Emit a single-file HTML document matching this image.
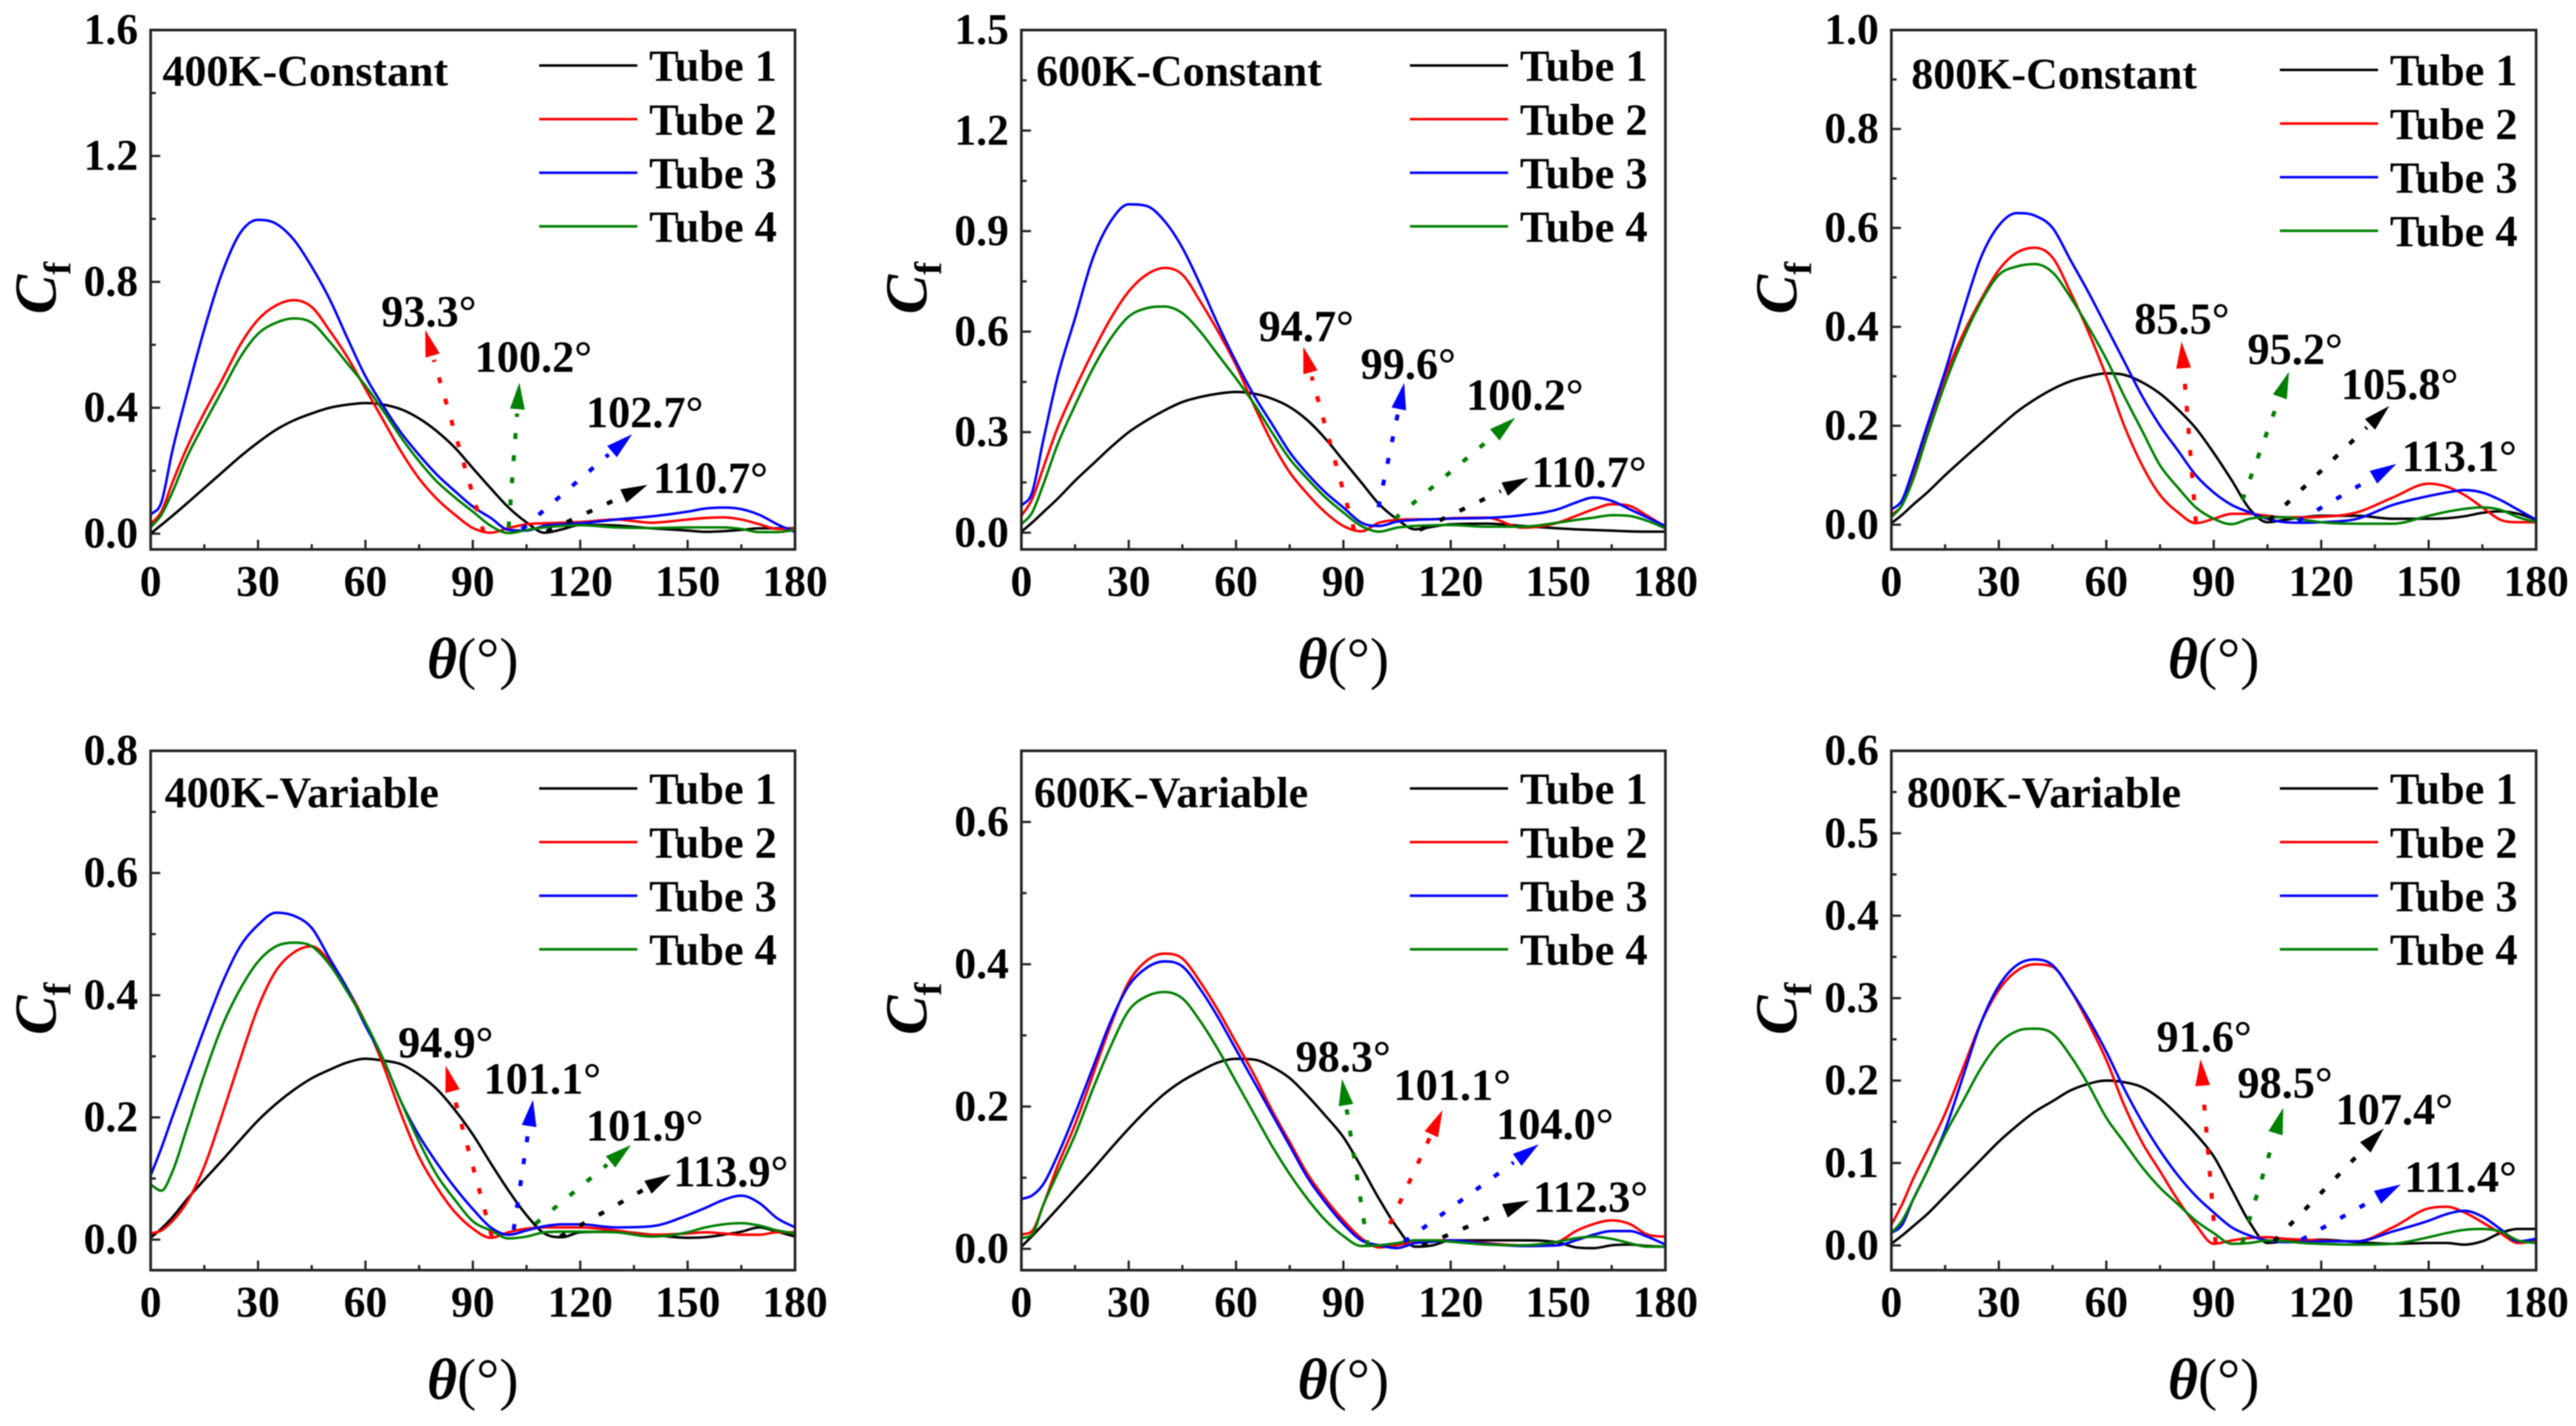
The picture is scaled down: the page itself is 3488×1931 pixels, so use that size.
<!DOCTYPE html>
<html lang="en">
<head>
<meta charset="utf-8">
<title>Skin friction coefficient of tube rows</title>
<style>
html,body{margin:0;padding:0;background:#fff;}
body{width:3488px;height:1931px;overflow:hidden;}
#figure{display:block;filter:blur(0.7px);}
text{font-family:"Liberation Serif","DejaVu Serif",serif;font-weight:700;fill:#000;}
</style>
</head>
<body>
<svg id="figure" xmlns="http://www.w3.org/2000/svg" width="3488" height="1931" viewBox="0 0 3488 1931"></svg>
<script>
const theta = [0,3,6,10,15, 20,25,30,35,40, 45,50,55,60,65, 70,75,80,85,90, 95,100,105,110,115, 120,130,140,150,155, 160,165,170,175,180];
const xTicks = [0,30,60,90,120,150,180];
const seriesNames = ['Tube 1','Tube 2','Tube 3','Tube 4'];
const seriesColors = ['#000000','#ff0000','#0000ff','#008000'];

const c400Tube1 = [0,.028,.056,.095,.145, .195,.245,.29,.33,.36, .382,.4,.41,.415,.41, .395,.366,.325,.273,.208, .144,.083,.036,.003,.014, .028,.026,.017,.01,.006, .008,.012,.017,.017,.017];
const c400Tube2 = [.03,.07,.16,.27,.385, .49,.6,.68,.725,.742, .72,.645,.56,.46,.36, .26,.175,.11,.06,.018, .003,.018,.03,.033,.035, .037,.045,.035,.045,.05, .052,.045,.03,.015,.015];
const c400Tube3 = [.06,.1,.26,.44,.65, .83,.955,.997,.985,.934, .848,.745,.62,.5,.405, .32,.25,.187,.135,.086, .05,.012,.01,.025,.03, .033,.045,.055,.07,.08, .083,.078,.06,.03,.005];
const c400Tube4 = [.02,.06,.13,.24,.35, .455,.56,.635,.67,.684, .67,.61,.54,.47,.39, .305,.23,.165,.115,.07, .025,.002,.012,.02,.025, .027,.02,.018,.02,.02, .02,.015,.005,.005,.012];

const c600Tube1 = [.003,.03,.06,.1,.155, .205,.255,.3,.335,.365, .39,.405,.415,.42,.415, .4,.375,.335,.28,.215, .15,.085,.04,.01,.018, .025,.027,.02,.013,.01, .008,.006,.004,.003,.003];
const c600Tube2 = [.05,.1,.19,.31,.43, .54,.64,.72,.77,.79, .77,.69,.6,.5,.38, .27,.18,.115,.06,.02, .004,.03,.038,.04,.04, .043,.045,.015,.03,.05, .07,.085,.08,.05,.018];
const c600Tube3 = [.08,.12,.27,.46,.64, .82,.93,.98,.975,.93, .85,.74,.62,.51,.41, .325,.24,.175,.12,.075, .03,.02,.033,.038,.04, .042,.044,.052,.07,.09, .105,.095,.07,.045,.02];
const c600Tube4 = [.025,.06,.14,.26,.38, .49,.58,.645,.67,.675, .655,.6,.53,.46,.385, .3,.22,.16,.105,.06, .02,.003,.015,.02,.022, .023,.018,.018,.03,.038, .045,.052,.05,.035,.013];

const c800Tube1 = [.003,.02,.04,.065,.1, .133,.165,.197,.228,.253, .274,.29,.3,.306,.303, .288,.265,.233,.195,.145, .09,.032,.005,.01,.015, .018,.018,.012,.012,.013, .017,.024,.027,.022,.01];
const c800Tube2 = [.02,.04,.1,.19,.3, .385,.455,.515,.55,.56, .54,.47,.39,.3,.2, .12,.06,.025,.003,.012, .022,.022,.018,.015,.015, .016,.025,.055,.083,.077, .06,.035,.01,.005,.005];
const c800Tube3 = [.03,.05,.11,.2,.31, .43,.54,.605,.63,.625, .6,.535,.47,.4,.33, .26,.2,.15,.1,.065, .04,.025,.012,.005,.004, .005,.012,.04,.058,.065, .07,.065,.05,.03,.01];
const c800Tube4 = [.015,.04,.09,.18,.285, .375,.45,.505,.522,.527, .51,.46,.4,.335,.26, .19,.12,.075,.035,.012, .001,.012,.015,.015,.01, .005,.002,.002,.018,.026, .032,.035,.03,.015,.005];

const v400Tube1 = [.003,.018,.036,.065,.098, .13,.163,.195,.222,.245, .264,.278,.29,.296,.293, .287,.27,.246,.212,.172, .125,.08,.04,.01,.004, .012,.013,.008,.003,.004, .008,.013,.02,.013,.005];
const v400Tube2 = [.01,.015,.03,.06,.12, .205,.295,.38,.44,.47, .48,.455,.41,.355,.285, .205,.135,.085,.045,.018, .003,.012,.018,.02,.02, .02,.015,.008,.01,.012, .01,.008,.008,.012,.012];
const v400Tube3 = [.105,.15,.2,.265,.345, .42,.48,.515,.535,.53, .51,.46,.41,.35,.295, .225,.17,.125,.085,.05, .02,.008,.015,.022,.025, .025,.02,.022,.04,.052, .065,.072,.06,.035,.02];
const v400Tube4 = [.09,.08,.11,.18,.27, .35,.41,.455,.48,.486, .48,.45,.405,.355,.295, .225,.16,.105,.065,.03, .015,.002,.005,.012,.013, .013,.012,.005,.012,.02, .025,.027,.023,.015,.01];

const v600Tube1 = [.003,.018,.034,.056,.084, .112,.141,.169,.195,.218, .236,.25,.262,.267,.266, .256,.24,.215,.187,.157, .115,.07,.03,.003,.005, .012,.012,.012,.009,.002, .001,.005,.006,.004,.003];
const v600Tube2 = [.02,.025,.06,.115,.175, .245,.315,.375,.405,.415, .408,.375,.335,.29,.245, .195,.15,.105,.07,.04, .015,.002,.005,.01,.012, .012,.008,.005,.01,.025, .035,.04,.035,.02,.017];
const v600Tube3 = [.07,.075,.09,.13,.19, .255,.32,.37,.395,.404, .397,.365,.325,.28,.235, .19,.145,.1,.065,.035, .012,.005,.001,.008,.01, .012,.007,.004,.005,.012, .02,.025,.025,.017,.006];
const v600Tube4 = [.015,.02,.06,.105,.16, .225,.285,.335,.355,.361, .352,.32,.28,.235,.19, .145,.105,.07,.04,.018, .004,.005,.008,.012,.012, .01,.006,.005,.01,.015, .017,.014,.008,.003,.003];

const v800Tube1 = [.002,.012,.023,.038,.06, .082,.104,.126,.145,.162, .175,.188,.196,.2,.198, .192,.178,.158,.135,.108, .068,.028,.003,.005,.006, .007,.004,.002,.003,.003, .001,.005,.015,.02,.02];
const v800Tube2 = [.025,.05,.08,.115,.16, .215,.27,.31,.333,.341, .338,.31,.27,.225,.17, .125,.09,.055,.025,.002, .006,.009,.01,.008,.007, .006,.005,.022,.045,.047, .04,.028,.015,.003,.005];
const v800Tube3 = [.015,.025,.055,.09,.14, .205,.27,.315,.34,.347, .34,.31,.275,.235,.19, .15,.115,.085,.06,.04, .022,.012,.006,.004,.004, .005,.005,.017,.03,.038, .042,.035,.02,.005,.008];
const v800Tube4 = [.015,.03,.055,.09,.135, .175,.215,.245,.26,.263, .257,.23,.195,.155,.125, .095,.07,.05,.03,.015, .002,.003,.006,.005,.003, .002,.001,.002,.01,.015, .019,.02,.017,.006,.003];

const yTicks400C = ['0.0','0.4','0.8','1.2','1.6'];
const yTicks600C = ['0.0','0.3','0.6','0.9','1.2','1.5'];
const yTicks800C = ['0.0','0.2','0.4','0.6','0.8','1.0'];
const yTicks400V = ['0.0','0.2','0.4','0.6','0.8'];
const yTicks600V = ['0.0','0.2','0.4','0.6'];
const yTicks800V = ['0.0','0.1','0.2','0.3','0.4','0.5','0.6'];

/* annotation: label, colour index, label theta, label Cf, tail theta, tail Cf, tip theta, tip Cf (data units) */
const notes400C = [['93.3°',1,64.4,.658,93,.005,76.7,.647],['100.2°',3,90.5,.514,100,.02,103,.48],['102.7°',2,121.6,.338,103.7,.014,134.5,.316],['110.7°',0,140.3,.129,110.6,.007,138.8,.155]];
const notes600C = [['94.7°',1,66.3,.572,93,.008,78.8,.555],['99.6°',2,94.8,.459,99.8,.076,107,.447],['100.2°',3,124.3,.366,104.4,.042,138,.343],['110.7°',0,142.6,.136,111.3,.008,141.8,.164]];
const notes800C = [['85.5°',1,67.8,.386,85,.005,81,.37],['95.2°',3,99.4,.325,98,.05,111,.309],['105.8°',0,125.5,.254,105.5,.009,139,.24],['113.1°',2,142.5,.108,113.5,.007,141,.123]];
const notes400V = [['94.9°',1,69.1,.298,95.3,.005,82.4,.285],['101.1°',2,93,.239,101.4,.016,106.8,.229],['101.9°',3,121.6,.162,107.5,.026,134.2,.155],['113.9°',0,146,.087,114.4,.005,145.4,.107]];
const notes600V = [['98.3°',3,76.6,.249,96.8,.004,89.6,.239],['101.1°',1,104,.209,103,.035,117.7,.195],['104.0°',2,132.7,.154,107,.01,144.6,.147],['112.3°',0,143,.052,112,.004,142,.068]];
const notes800V = [['91.6°',1,74,.235,90.5,.003,86.3,.226],['98.5°',3,96.6,.179,98,.003,109.4,.167],['107.4°',0,124,.147,106.8,.005,137.5,.142],['111.4°',2,143.2,.065,114.5,.007,142.2,.074]];

const panels = [
 {id:'400k-constant',title:'400K-Constant',left:204,right:1076.5,top:40.7,yMin:-.05,yMax:1.6,major:.4,ticks:yTicks400C,series:[c400Tube1,c400Tube2,c400Tube3,c400Tube4],notes:notes400C,legendTop:48,titleX:220,titleY:116},
 {id:'600k-constant',title:'600K-Constant',left:1383,right:2255,top:40.7,yMin:-.05,yMax:1.5,major:.3,ticks:yTicks600C,series:[c600Tube1,c600Tube2,c600Tube3,c600Tube4],notes:notes600C,legendTop:48,titleX:1403,titleY:116},
 {id:'800k-constant',title:'800K-Constant',left:2561,right:3434,top:40.7,yMin:-.05,yMax:1.0,major:.2,ticks:yTicks800C,series:[c800Tube1,c800Tube2,c800Tube3,c800Tube4],notes:notes800C,legendTop:54,titleX:2588,titleY:120},
 {id:'400k-variable',title:'400K-Variable',left:204,right:1076.5,top:1016.7,yMin:-.05,yMax:.8,major:.2,ticks:yTicks400V,series:[v400Tube1,v400Tube2,v400Tube3,v400Tube4],notes:notes400V,legendTop:51,titleX:223,titleY:1093},
 {id:'600k-variable',title:'600K-Variable',left:1383,right:2255,top:1016.7,yMin:-.03,yMax:.7,major:.2,ticks:yTicks600V,series:[v600Tube1,v600Tube2,v600Tube3,v600Tube4],notes:notes600V,legendTop:51,titleX:1400,titleY:1093},
 {id:'800k-variable',title:'800K-Variable',left:2561,right:3434,top:1016.7,yMin:-.03,yMax:.6,major:.1,ticks:yTicks800V,series:[v800Tube1,v800Tube2,v800Tube3,v800Tube4],notes:notes800V,legendTop:51,titleX:2582,titleY:1093}
];

const SVGNS = 'http://www.w3.org/2000/svg';
const figure = document.getElementById('figure');
const PLOT_HEIGHT = 703.3;

function make(tag, attrs, parent){
  const el = document.createElementNS(SVGNS, tag);
  for (const k in attrs) el.setAttribute(k, attrs[k]);
  parent.appendChild(el);
  return el;
}

/* shape-preserving cubic interpolation through the sampled values */
function curvePath(xs, ys){
  const n = xs.length, d = [], m = [];
  for (let i = 0; i < n-1; i++) d.push((ys[i+1]-ys[i])/(xs[i+1]-xs[i]));
  m[0] = d[0]; m[n-1] = d[n-2];
  for (let i = 1; i < n-1; i++){
    if (d[i-1]*d[i] <= 0) m[i] = 0;
    else {
      const a = xs[i]-xs[i-1], b = xs[i+1]-xs[i];
      const central = (d[i-1]*b + d[i]*a)/(a+b);
      const limit = 3*Math.min(Math.abs(d[i-1]), Math.abs(d[i]));
      m[i] = Math.sign(central)*Math.min(Math.abs(central), limit);
    }
  }
  let p = 'M' + xs[0].toFixed(2) + ' ' + ys[0].toFixed(2);
  for (let i = 0; i < n-1; i++){
    const h = (xs[i+1]-xs[i])/3;
    p += 'C' + (xs[i]+h).toFixed(2) + ' ' + (ys[i]+m[i]*h).toFixed(2) + ' ' +
         (xs[i+1]-h).toFixed(2) + ' ' + (ys[i+1]-m[i+1]*h).toFixed(2) + ' ' +
         xs[i+1].toFixed(2) + ' ' + ys[i+1].toFixed(2);
  }
  return p;
}

panels.forEach(function(panel){
  const bottom = panel.top + PLOT_HEIGHT;
  const xScale = function(v){ return panel.left + (v/180)*(panel.right-panel.left); };
  const yScale = function(v){ return bottom - (v-panel.yMin)/(panel.yMax-panel.yMin)*PLOT_HEIGHT; };

  const g = make('g', {}, figure);
  
  

  /* x ticks */
  for (let v = 0; v <= 180; v += 15){
    const isMajor = v % 30 === 0;
    const tick = make('line', {x1:xScale(v),x2:xScale(v),y1:bottom,y2:bottom-(isMajor?13:7),stroke:'#222','stroke-width':3}, g);
    
    
  }
  xTicks.forEach(function(v){
    const t = make('text', {x:xScale(v),y:bottom+63,'text-anchor':'middle','font-size':59}, g);
    t.textContent = String(v);
    
    
  });

  /* y ticks */
  const minorCount = Math.round(panel.yMax/(panel.major/2));
  for (let i = 0; i <= minorCount; i++){
    const v = i*panel.major/2;
    const isMajor = i % 2 === 0;
    const tick = make('line', {x1:panel.left,x2:panel.left+(isMajor?13:7),y1:yScale(v),y2:yScale(v),stroke:'#222','stroke-width':3}, g);
    
    
  }
  panel.ticks.forEach(function(label){
    const t = make('text', {x:panel.left-17,y:yScale(parseFloat(label))+19,'text-anchor':'end','font-size':59}, g);
    t.textContent = label;
    
    
  });

  /* series */
  const xs = theta.map(xScale);
  panel.series.forEach(function(values, i){
    const line = make('path', {d:curvePath(xs, values.map(yScale)),fill:'none',stroke:seriesColors[i],'stroke-width':3.4,'stroke-linejoin':'round'}, g);
    
    
  });

  /* frame */
  const frame = make('rect', {x:panel.left,y:panel.top,width:panel.right-panel.left,height:PLOT_HEIGHT,fill:'none',stroke:'#222','stroke-width':3.6}, g);
  
  

  /* panel title */
  const title = make('text', {x:panel.titleX,y:panel.titleY,'font-size':59.5}, g);
  title.textContent = panel.title;
  
  

  /* legend */
  seriesNames.forEach(function(name, i){
    const y = panel.top + panel.legendTop + i*72.6;
    const swatch = make('line', {x1:panel.left+526,x2:panel.left+659,y1:y,y2:y,stroke:seriesColors[i],'stroke-width':3.4}, g);
    
    
    const label = make('text', {x:panel.left+675,y:y+21,'font-size':60}, g);
    label.textContent = name;
    
    
  });

  /* annotations */
  panel.notes.forEach(function(n){
    const color = seriesColors[n[1]];
    const tx = xScale(n[4]), ty = yScale(n[5]), hx = xScale(n[6]), hy = yScale(n[7]);
    const dx = hx-tx, dy = hy-ty, len = Math.sqrt(dx*dx+dy*dy), ux = dx/len, uy = dy/len;
    const bx = hx-ux*36, by = hy-uy*36;
    const dots = make('line', {x1:tx,y1:ty,x2:hx-ux*42,y2:hy-uy*42,stroke:color,'stroke-width':5.5,'stroke-dasharray':'8 22'}, g);
    
    
    const head = make('polygon', {points:hx+','+hy+' '+(bx-uy*10)+','+(by+ux*10)+' '+(bx+uy*10)+','+(by-ux*10),fill:color}, g);
    
    
    const label = make('text', {x:xScale(n[2]),y:yScale(n[3]),'font-size':60}, g);
    label.textContent = n[0];
    
    
  });

  /* axis titles */
  const xTitle = make('text', {x:(panel.left+panel.right)/2,y:bottom+174,'text-anchor':'middle','font-size':78}, g);
  
  
  const thetaSpan = make('tspan', {'font-style':'italic'}, xTitle);
  thetaSpan.textContent = 'θ';
  const unitSpan = make('tspan', {'font-weight':400}, xTitle);
  unitSpan.textContent = '(°)';

  const cy = panel.top + PLOT_HEIGHT/2 + 33;
  const yTitle = make('text', {transform:'translate('+(panel.left-129)+','+cy+') rotate(-90)','font-size':80}, g);
  
  
  const cSpan = make('tspan', {'font-style':'italic'}, yTitle);
  cSpan.textContent = 'C';
  const fSpan = make('tspan', {'font-size':52,dy:20}, yTitle);
  fSpan.textContent = 'f';
});
</script>
</body>
</html>
